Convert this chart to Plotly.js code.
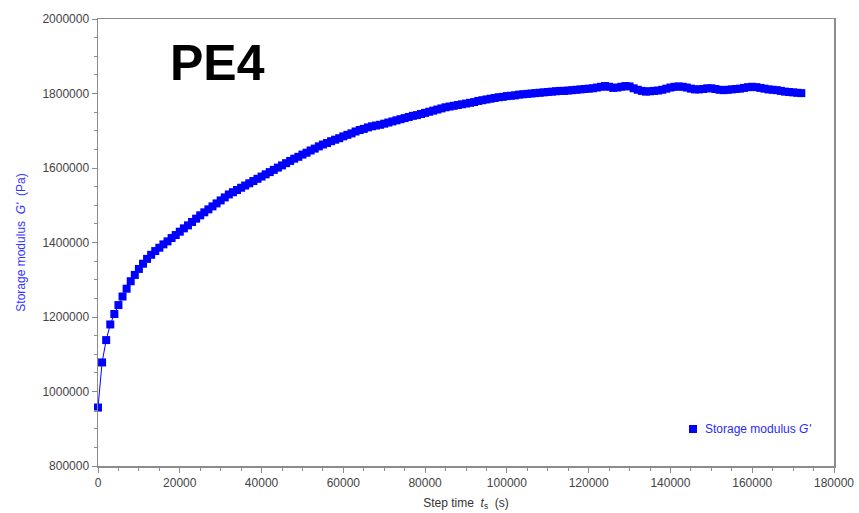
<!DOCTYPE html>
<html>
<head>
<meta charset="utf-8">
<script src="https://cdn.plot.ly/plotly-3.0.1.min.js"></script>
<style>html,body{margin:0;padding:0;background:#fff;}#chart{width:859px;height:513px;}</style>
</head>
<body>
<div id="chart"></div>
<script>
// Step time t_s (s)
var stepTime = [
0,1000,2000,3000,4000,5000,6000,7000,8000,9000,
10000,11000,12000,13000,14000,15000,16000,17000,18000,19000,
20000,21000,22000,23000,24000,25000,26000,27000,28000,29000,
30000,31000,32000,33000,34000,35000,36000,37000,38000,39000,
40000,41000,42000,43000,44000,45000,46000,47000,48000,49000,
50000,51000,52000,53000,54000,55000,56000,57000,58000,59000,
60000,61000,62000,63000,64000,65000,66000,67000,68000,69000,
70000,71000,72000,73000,74000,75000,76000,77000,78000,79000,
80000,81000,82000,83000,84000,85000,86000,87000,88000,89000,
90000,91000,92000,93000,94000,95000,96000,97000,98000,99000,
100000,101000,102000,103000,104000,105000,106000,107000,108000,109000,
110000,111000,112000,113000,114000,115000,116000,117000,118000,119000,
120000,121000,122000,123000,124000,125000,126000,127000,128000,129000,
130000,131000,132000,133000,134000,135000,136000,137000,138000,139000,
140000,141000,142000,143000,144000,145000,146000,147000,148000,149000,
150000,151000,152000,153000,154000,155000,156000,157000,158000,159000,
160000,161000,162000,163000,164000,165000,166000,167000,168000,169000,
170000,171000,172000
];
// Storage modulus G' (Pa)
var storageModulus = [
957000,1078000,1138000,1180000,1208000,1232000,1255000,1276000,1296000,1313000,
1329000,1343000,1356000,1367000,1377000,1386000,1395000,1403000,1412000,1420000,
1429000,1438000,1446000,1455000,1464000,1473000,1481000,1489000,1497000,1505000,
1513000,1521000,1529000,1535000,1541000,1547000,1553000,1559000,1565000,1571000,
1577000,1583000,1589000,1595000,1601000,1607000,1613000,1619000,1625000,1630000,
1636000,1641000,1647000,1652000,1658000,1663000,1667000,1672000,1676000,1680000,
1685000,1689000,1693000,1698000,1702000,1705000,1709000,1712000,1714000,1716000,
1719000,1722000,1725000,1728000,1731000,1734000,1737000,1740000,1742000,1745000,
1748000,1751000,1754000,1757000,1760000,1763000,1765000,1767000,1769000,1771000,
1773000,1775000,1777000,1780000,1782000,1784000,1786000,1788000,1790000,1791000,
1793000,1794000,1795000,1797000,1798000,1799000,1800000,1801000,1802000,1803000,
1804000,1805000,1806000,1807000,1807000,1808000,1809000,1810000,1811000,1812000,
1813000,1814000,1816000,1818000,1820000,1818000,1815000,1816000,1818000,1820000,
1819000,1814000,1810000,1807000,1805000,1806000,1807000,1808000,1810000,1813000,
1816000,1818000,1819000,1818000,1816000,1813000,1811000,1811000,1812000,1814000,
1814000,1812000,1810000,1809000,1810000,1811000,1812000,1813000,1815000,1817000,
1818000,1817000,1815000,1813000,1811000,1810000,1809000,1807000,1805000,1804000,
1803000,1802000,1801000
];
var xTicks = [0,20000,40000,60000,80000,100000,120000,140000,160000,180000];
var yTicks = [800000,1000000,1200000,1400000,1600000,1800000,2000000];
var sampleLabel = 'PE4';
var seriesName = "Storage modulus <i>G'</i>";

var blue = '#0000ff';
var axisGray = '#8c8c8c';
var font = 'Arial, "Liberation Sans", sans-serif';

var trace = {
  x: stepTime, y: storageModulus, type: 'scatter', mode: 'lines+markers',
  name: seriesName, showlegend: false, cliponaxis: false,
  line: {color: blue, width: 1},
  marker: {symbol: 'square', size: 8, color: blue}
};

var axisCommon = {
  showgrid: false, zeroline: false, showline: true, linecolor: axisGray, linewidth: 1.5,
  mirror: true, ticks: 'outside', ticklen: 5, tickwidth: 1, tickcolor: axisGray,
  tickfont: {family: font, size: 12, color: '#444'},
  minor: {ticks: 'outside', ticklen: 3, tickwidth: 1, tickcolor: axisGray, showgrid: false}
};

var layout = {
  width: 859, height: 513,
  margin: {l: 98, r: 25, t: 19, b: 47},
  paper_bgcolor: '#fff', plot_bgcolor: '#fff',
  font: {family: font},
  xaxis: Object.assign({}, axisCommon, {
    range: [0, 180000], tickmode: 'array', tickvals: xTicks, ticktext: xTicks.map(String),
    minor: Object.assign({}, axisCommon.minor, {dtick: 5000}),
    title: {text: "Step time  <i>t</i><sub>s</sub>  (s)", font: {family: font, size: 12, color: '#333'}, standoff: 9}
  }),
  yaxis: Object.assign({}, axisCommon, {
    range: [800000, 2000000], tickmode: 'array', tickvals: yTicks, ticktext: yTicks.map(String),
    minor: Object.assign({}, axisCommon.minor, {dtick: 50000}),
    title: {text: "Storage modulus  <i>G'</i>  (Pa)", font: {family: font, size: 12, color: '#3333ff'}, standoff: 14}
  }),
  annotations: [
    {text: '<b>' + sampleLabel + '</b>', xref: 'paper', yref: 'paper', x: 0.1617, y: 0.9016,
     xanchor: 'center', yanchor: 'middle', showarrow: false,
     font: {family: font, size: 50, color: '#000'}},
    {text: seriesName, xref: 'paper', yref: 'paper', x: 0.822, y: 0.0828,
     xanchor: 'left', yanchor: 'middle', showarrow: false,
     font: {family: font, size: 12, color: '#2a2aff'}}
  ],
  shapes: [
    {type: 'rect', xref: 'paper', yref: 'paper', xsizemode: 'pixel', ysizemode: 'pixel',
     xanchor: 0.8084, yanchor: 0.0828, x0: -4, x1: 4, y0: -4, y1: 4,
     fillcolor: blue, line: {width: 0}}
  ]
};

Plotly.newPlot('chart', [trace], layout, {displayModeBar: false, staticPlot: true});
</script>
</body>
</html>
